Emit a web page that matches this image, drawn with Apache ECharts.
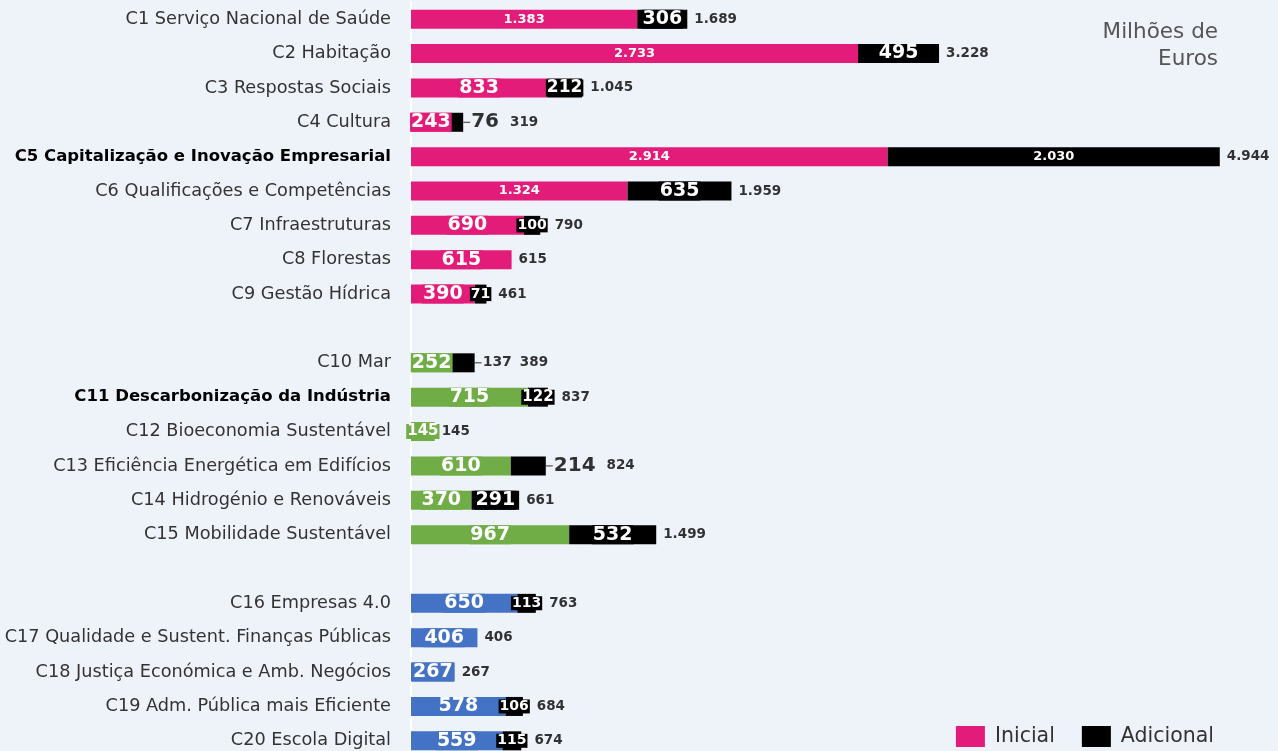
<!DOCTYPE html>
<html><head><meta charset="utf-8">
<script src="https://cdn.jsdelivr.net/npm/echarts@6/dist/echarts.min.js"></script>
<style>html,body{margin:0;padding:0;background:#EEF2F9}#c{width:1278px;height:751px}</style>
</head><body><div id="c"></div>
<script>
const categories = [
  'C1 Serviço Nacional de Saúde','C2 Habitação','C3 Respostas Sociais','C4 Cultura',
  'C5 Capitalização e Inovação Empresarial','C6 Qualificações e Competências','C7 Infraestruturas',
  'C8 Florestas','C9 Gestão Hídrica',
  'C10 Mar','C11 Descarbonização da Indústria','C12 Bioeconomia Sustentável',
  'C13 Eficiência Energética em Edifícios','C14 Hidrogénio e Renováveis','C15 Mobilidade Sustentável',
  'C16 Empresas 4.0','C17 Qualidade e Sustent. Finanças Públicas','C18 Justiça Económica e Amb. Negócios',
  'C19 Adm. Pública mais Eficiente','C20 Escola Digital'
];
const inicial   = [1383,2733,833,243,2914,1324,690,615,390, 252,715,145,610,370,967, 650,406,267,578,559];
const adicional = [306,495,212,76,2030,635,100,0,71, 137,122,0,214,291,532, 113,0,0,106,115];
const total     = [1689,3228,1045,319,4944,1959,790,615,461, 389,837,145,824,661,1499, 763,406,267,684,674];
const groupSizes = [9, 6, 5];
const boldCategories = ['C5 Capitalização e Inovação Empresarial','C11 Descarbonização da Indústria'];
const outsideAdicional = ['C4 Cultura','C10 Mar','C13 Eficiência Energética em Edifícios'];
const unitLines = ['Milhões de', 'Euros'];

const groupColors = ['#E31C79','#70AD47','#4472C4'];
const FONT = 'DejaVu Sans';
const XMAX = 5300;
const fmt = v => v >= 1000 ? (Math.floor(v/1000) + '.' + String(v%1000).padStart(3,'0')) : String(v);
const ctx = document.createElement('canvas').getContext('2d');
const textW = (s, size) => { ctx.font = 'bold ' + size + 'px "' + FONT + '"'; return ctx.measureText(s).width; };

// build categories with gaps between groups
const cats = [], ini = [], adi = [], tot = [], rows = [];
let k = 0;
groupSizes.forEach((n, g) => {
  if (g > 0) { cats.push(''); ini.push(null); adi.push(null); tot.push(null); }
  for (let i = 0; i < n; i++, k++) {
    const name = categories[k], col = groupColors[g];
    cats.push(name);
    const iv = inicial[k];
    const isz = iv >= 1000 ? 13 : (iv < 200 ? 15 : 19);
    ini.push({ value: iv, itemStyle: { color: col },
      label: { fontSize: isz, backgroundColor: col, padding: [0, 1] } });
    const av = adicional[k];
    const out = outsideAdicional.includes(name);
    const asz = av >= 1000 ? 13 : av >= 250 ? 19 : av >= 150 ? 17 : av >= 120 ? 15 : 14;
    adi.push({ value: av, label: { show: av > 0 && !out, fontSize: asz } });
    const d = { value: [total[k], name], outside: out ? av : null, big: av >= 70 && av !== 137 };
    tot.push(d);
    rows.push({ d, iv, av, out, labW: av > 0 && !out ? textW(fmt(av), asz) + 2 : 0 });
  }
});

const titleStyle = { fontFamily: FONT, fontSize: 21.5, fontWeight: 'normal', color: '#555' };
const chart = echarts.init(document.getElementById('c'));
chart.setOption({
  backgroundColor: '#EEF2F9',
  animation: false,
  title: unitLines.map((t, i) => ({ text: t, right: 60, top: 21 + i * 27, padding: 0, textStyle: titleStyle })),
  legend: {
    data: [{ name: 'Inicial', itemStyle: { color: '#E31C79' } }, { name: 'Adicional', itemStyle: { color: '#000' } }],
    right: 64, bottom: 4, padding: 0, icon: 'rect', itemWidth: 29, itemHeight: 21, itemGap: 27,
    textStyle: { fontFamily: FONT, fontSize: 20.5, color: '#333', padding: [0, 0, 0, 5] }
  },
  grid: { left: 411, right: 0, top: 2, height: 756, containLabel: false, outerBoundsMode: 'none' },
  xAxis: { type: 'value', min: 0, max: XMAX, show: false },
  yAxis: {
    type: 'category', data: cats, inverse: true,
    axisTick: { show: false },
    axisLine: { show: true, lineStyle: { color: '#ffffff', width: 2 } },
    axisLabel: {
      margin: 20, fontFamily: FONT, fontSize: 17.7, color: '#333',
      formatter: v => boldCategories.includes(v) ? '{b|' + v + '}' : v,
      rich: { b: { fontFamily: FONT, fontSize: 16.5, fontWeight: 'bold', color: '#000' } }
    }
  },
  series: [
    { name: 'Inicial', type: 'bar', stack: 's', barWidth: 19, data: ini,
      itemStyle: { color: '#E31C79' },
      label: { show: true, position: 'inside', color: '#fff', fontFamily: FONT, fontWeight: 'bold',
        formatter: p => fmt(p.value) } },
    { name: 'Adicional', type: 'bar', stack: 's', barWidth: 19, data: adi,
      itemStyle: { color: '#000' },
      label: { show: true, position: 'inside', color: '#fff', fontFamily: FONT, fontWeight: 'bold',
        backgroundColor: '#000', padding: [0, 1], formatter: p => fmt(p.value) } },
    { name: 'Total', type: 'scatter', symbolSize: 0, data: tot, silent: true,
      label: { show: true, position: 'right', distance: 7, color: '#000', fontFamily: FONT,
        fontWeight: 'bold', fontSize: 13.5,
        formatter: p => {
          const d = p.data;
          if (d.outside != null) {
            const st = d.big ? 'a' : 's';
            return '{ln| }{' + st + '|' + fmt(d.outside) + '}{g' + (d.big ? 'b' : 's') + '| }{t|' + fmt(d.value[0]) + '}';
          }
          return fmt(d.value[0]);
        },
        rich: {
          ln: { width: 7, height: 1, backgroundColor: '#000' },
          a: { fontFamily: FONT, fontWeight: 'bold', fontSize: 20, color: '#000', padding: [0, 0, 0, 1] },
          s: { fontFamily: FONT, fontWeight: 'bold', fontSize: 14, color: '#000', padding: [0, 0, 0, 1] },
          gb: { width: 11 }, gs: { width: 8 },
          t: { fontFamily: FONT, fontWeight: 'bold', fontSize: 13.5, color: '#000' }
        }
      } }
  ]
});
// total labels: start after the bar end, or after an additional-value box wider than its bar
const newTot = tot.map(d => {
  if (!d) return d;
  const r = rows.find(x => x.d === d);
  if (r.out) return Object.assign({}, d, { label: { distance: 0 } });
  let dist = 7;
  if (r.av > 0) {
    const x0 = chart.convertToPixel({ xAxisIndex: 0 }, r.iv);
    const x1 = chart.convertToPixel({ xAxisIndex: 0 }, r.iv + r.av);
    const boxEnd = (x0 + x1) / 2 + r.labW / 2;
    dist = Math.max(0, boxEnd - x1) + 7;
  }
  return Object.assign({}, d, { label: { distance: dist } });
});
chart.setOption({ series: [{}, {}, { data: newTot }] });
</script></body></html>
